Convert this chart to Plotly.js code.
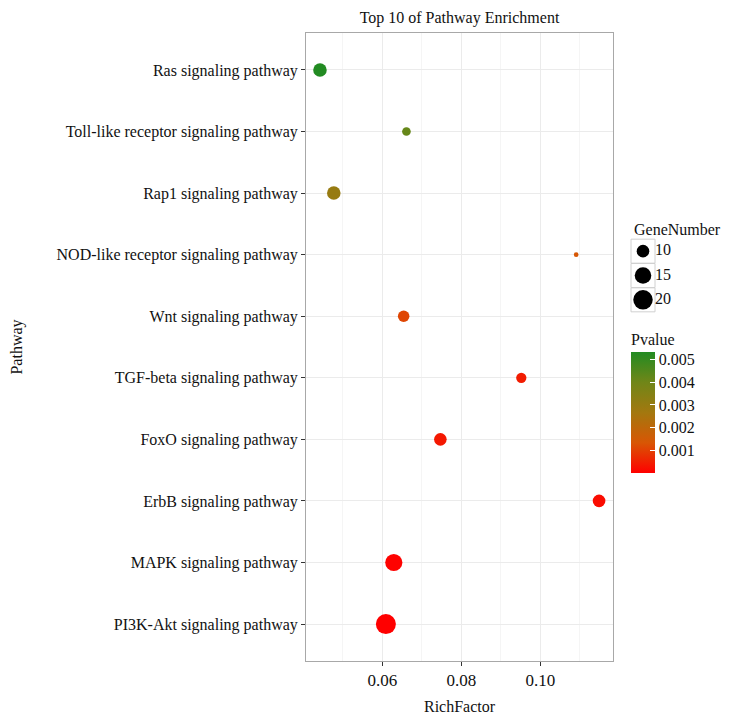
<!DOCTYPE html>
<html>
<head>
<meta charset="utf-8">
<script src="https://cdn.plot.ly/plotly-3.0.1.min.js"></script>
<style>html,body{margin:0;padding:0;background:#fff;}#chart{width:733px;height:716px;}</style>
</head>
<body>
<div id="chart"></div>
<script>
// ---- data ----
const pathways = [
  "Ras signaling pathway",
  "Toll-like receptor signaling pathway",
  "Rap1 signaling pathway",
  "NOD-like receptor signaling pathway",
  "Wnt signaling pathway",
  "TGF-beta signaling pathway",
  "FoxO signaling pathway",
  "ErbB signaling pathway",
  "MAPK signaling pathway",
  "PI3K-Akt signaling pathway"
];
const richFactor = [0.0442, 0.0661, 0.0477, 0.1091, 0.0654, 0.0952, 0.0747, 0.1149, 0.0629, 0.0609];
const geneNumber = [11, 7, 11, 6, 9, 8, 10, 10, 16, 21];
const pValue = [0.00536, 0.0042, 0.0030, 0.0014, 0.0011, 0.00045, 0.0004, 0.0002, 0.00005, 0.00002];
const sizeBreaks = [10, 15, 20];
const sizeBreakLabels = ["10", "15", "20"];
const pTicks = [0.001, 0.002, 0.003, 0.004, 0.005];
const xTicks = [0.06, 0.08, 0.10];

// ---- styling helpers ----
const FONT = "Liberation Serif, DejaVu Serif, serif";
const gMin = Math.min(...geneNumber), gMax = Math.max(...geneNumber);
function diam(v) { // ggplot-like area scale
  const t = Math.max(0, (v - gMin) / (gMax - gMin));
  return 4.7 + 15.3 * Math.sqrt(t);
}
const colorscale = [
  [0, "#FF0000"], [0.25, "#D85604"], [0.5, "#A3780F"], [0.75, "#708618"], [1, "#228B22"]
];
const catOrder = pathways.slice().reverse();

const W = 733, H = 716, L = 306, R = 10, T = 33, B = 55;
const pw = W - L - R, ph = H - T - B;
const px = x => (x - L) / pw;
const py = y => (H - B - y) / ph;

const traces = [
  {
    type: "scatter", mode: "markers",
    x: richFactor, y: pathways,
    xaxis: "x", yaxis: "y",
    marker: {
      size: geneNumber.map(diam),
      color: pValue,
      colorscale: colorscale,
      showscale: true,
      line: {width: 0},
      opacity: 1,
      colorbar: {
        x: px(631), xanchor: "left", xref: "paper",
        y: py(401), yanchor: "middle",
        thickness: 24, thicknessmode: "pixels",
        len: 143, lenmode: "pixels",
        outlinewidth: 0, xpad: 0, ypad: 0,
        tickvals: pTicks, tickformat: ".3f",
        ticks: "inside", ticklen: 5, tickcolor: "#ffffff", tickwidth: 1,
        tickfont: {family: FONT, size: 16, color: "#111"},
        title: {text: "Pvalue", side: "top", font: {family: FONT, size: 16, color: "#111"}}
      }
    },
    showlegend: false, hoverinfo: "x+y"
  },
  {
    type: "scatter", mode: "markers",
    x: sizeBreaks.map(() => 0), y: sizeBreaks,
    xaxis: "x2", yaxis: "y2",
    marker: {symbol: "square", size: 24, color: "#ffffff", opacity: 1, line: {color: "#d0d0d0", width: 1}},
    showlegend: false, hoverinfo: "skip", cliponaxis: false
  },
  {
    type: "scatter", mode: "markers",
    x: sizeBreaks.map(() => 0), y: sizeBreaks,
    xaxis: "x2", yaxis: "y2",
    marker: {size: sizeBreaks.map(diam), color: "#000000", opacity: 1, line: {width: 0}},
    showlegend: false, hoverinfo: "skip", cliponaxis: false
  },
  {
    type: "scatter", mode: "text",
    x: sizeBreaks.map(() => 1), y: sizeBreaks,
    text: sizeBreakLabels, textposition: "middle right",
    textfont: {family: FONT, size: 16, color: "#111"},
    xaxis: "x2", yaxis: "y2",
    showlegend: false, hoverinfo: "skip", cliponaxis: false
  }
];

const layout = {
  width: W, height: H,
  margin: {l: L, r: R, t: T, b: B, pad: 0},
  paper_bgcolor: "#ffffff", plot_bgcolor: "#ffffff",
  font: {family: FONT, size: 16, color: "#111"},
  showlegend: false,
  title: {
    text: "Top 10 of Pathway Enrichment",
    x: px((306 + 613) / 2), xref: "paper", xanchor: "center",
    y: 1 - 17 / H, yref: "container", yanchor: "middle",
    font: {family: FONT, size: 16, color: "#111"}
  },
  xaxis: {
    domain: [0, px(613)],
    range: [0.04066, 0.11843],
    tickvals: xTicks, tickformat: ".2f",
    ticks: "outside", ticklen: 4, tickcolor: "#333", tickwidth: 1,
    showgrid: true, gridcolor: "#ebebeb", gridwidth: 1,
    minor: {dtick: 0.01, tick0: 0, showgrid: true, gridcolor: "#f5f5f5", gridwidth: 1, ticks: ""},
    zeroline: false,
    showline: true, linecolor: "#a8a8a8", linewidth: 1, mirror: true,
    tickfont: {family: FONT, size: 17, color: "#111"},
    title: {text: "RichFactor", font: {family: FONT, size: 16, color: "#111"}, standoff: 11},
    automargin: false, fixedrange: true
  },
  yaxis: {
    type: "category",
    categoryorder: "array", categoryarray: catOrder,
    range: [-0.6, 9.6],
    ticks: "outside", ticklen: 4, tickcolor: "#333", tickwidth: 1,
    showgrid: true, gridcolor: "#ebebeb", gridwidth: 1,
    zeroline: false,
    showline: true, linecolor: "#a8a8a8", linewidth: 1, mirror: true,
    tickfont: {family: FONT, size: 16, color: "#111"},
    title: {text: "Pathway", font: {family: FONT, size: 16, color: "#111"}, standoff: 29},
    automargin: false, fixedrange: true
  },
  xaxis2: {domain: [px(631), px(655)], range: [-1, 1], visible: false, anchor: "y2", fixedrange: true},
  yaxis2: {domain: [py(312), py(239)], range: [22.5, 7.5], visible: false, anchor: "x2", fixedrange: true},
  annotations: [
    {text: "GeneNumber", xref: "paper", yref: "paper", x: px(632), y: py(229),
     xanchor: "left", yanchor: "middle", showarrow: false,
     font: {family: FONT, size: 16, color: "#111"}}
  ]
};

Plotly.newPlot("chart", traces, layout, {displayModeBar: false, staticPlot: true});
</script>
</body>
</html>
